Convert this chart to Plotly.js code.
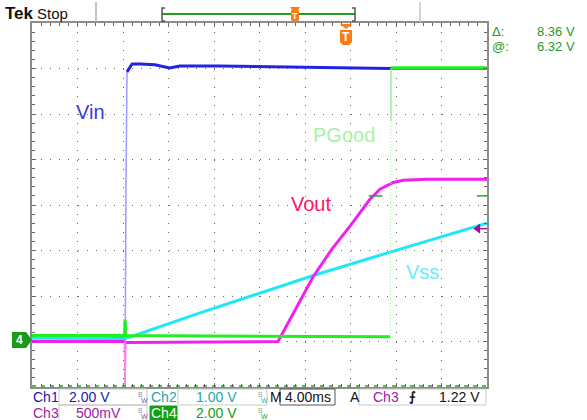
<!DOCTYPE html>
<html><head><meta charset="utf-8">
<script src="https://cdn.plot.ly/plotly-3.0.1.min.js"></script>
<style>html,body{margin:0;padding:0;background:#fff;overflow:hidden}</style>
</head><body><div id="chart" style="width:587px;height:420px"></div>
<script>
// ---------- data: time in ms from left edge of screen, values in volts ----------
// Ch1 Vin (2 V/div)
const vinT = [0, 8.13, 8.18, 8.26, 8.35, 8.8, 9.5, 10.8, 12.1, 13.0, 16.5, 23.6, 31.5, 40];
const vinV = [0.09, 0.09, -1.98, 6.6, 11.77, 12.12, 12.12, 12.08, 11.94, 12.03, 12.03, 11.97, 11.92, 11.92];
// Ch2 Vss (1 V/div)
const vssT = [0, 8.18, 14.77, 20.04, 24.73, 31.56, 35.58, 39.1, 40];
const vssV = [0.04, 0.02, 0.59, 1.03, 1.41, 1.93, 2.23, 2.5, 2.56];
// Ch3 Vout (500 mV/div)
const voutT = [0, 8.13, 8.18, 8.26, 21.63, 24.73, 26.35, 27.96, 29.71, 30.59, 31.76, 32.64, 34.7, 40];
const voutV = [-0.02, -0.02, -0.52, -0.03, -0.02, 0.694, 0.992, 1.248, 1.543, 1.653, 1.727, 1.752, 1.763, 1.763];
// Ch4 PGood (2 V/div)
const pgT = [0, 8.13, 8.18, 8.26, 31.5, 31.56, 40];
const pgV = [0.18, 0.18, 0.88, 0.18, 0.13, 11.94, 11.94];
const pgEdgeBrightFrom = 9.6;            // V, where the bright part of the PGood edge starts
// channel settings and readouts
const chNames = ['Ch1', 'Ch2', 'Ch3', 'Ch4'];
const chScale = [2, 1, 0.5, 2];          // V/div
const groundDiv = -2.96;                 // ground marker position (div from centre)
const trigLevel = 1.22;                  // Ch3 trigger level, V
const cursorAt = 6.32, cursorDelta = 8.36; // Ch4 cursor readout, V
const timeDiv = 4;                       // ms/div

const toDiv = (arr, s) => arr.map(v => v === null ? null : v / s + groundDiv);

// ---------- pixel -> paper helpers for decorations ----------
const L = 32, R = 487, T = 23, B = 387;
const P = x => (x - L) / (R - L);
const Q = y => (B - y) / (B - T);
const path = pts => pts.map((p, i) => (i ? 'L' : 'M') + P(p[0]).toFixed(4) + ',' + Q(p[1]).toFixed(4)).join(' ') + ' Z';

const cVin = '#2323e8', cVss = '#1ee8f8', cVout = '#f020ee', cPg = '#22ee22';

function tr(x, y, color, width, extra) {
  return Object.assign({x: x, y: y, type: 'scatter', mode: 'lines', hoverinfo: 'skip',
    line: {color: color, width: width}, cliponaxis: true}, extra || {});
}

const traces = [];
// Vin: edge thin, rest thick
traces.push(tr(vinT.slice(1, 5), toDiv(vinV.slice(1, 5), chScale[0]), '#9a9aff', 1.5));
traces.push(tr(vinT.slice(0, 2), toDiv(vinV.slice(0, 2), chScale[0]), cVin, 3));
traces.push(tr(vinT.slice(4), toDiv(vinV.slice(4), chScale[0]), cVin, 3));
// Vss
traces.push(tr(vssT, toDiv(vssV, chScale[1]), cVss, 3));
// Vout
traces.push(tr(voutT.slice(1, 4), toDiv(voutV.slice(1, 4), chScale[2]), '#ff80f0', 1.5));
traces.push(tr(voutT.slice(0, 2), toDiv(voutV.slice(0, 2), chScale[2]), cVout, 3));
traces.push(tr(voutT.slice(3), toDiv(voutV.slice(3), chScale[2]), cVout, 3));
// PGood
traces.push(tr(pgT.slice(0, 5), toDiv(pgV.slice(0, 5), chScale[3]), cPg, 3));
traces.push(tr(pgT.slice(4, 6), toDiv(pgV.slice(4, 6), chScale[3]), '#9cf09c', 1.2, {line: {color: '#9cf09c', width: 1.2, dash: '1px,2px'}}));
traces.push(tr([pgT[5], pgT[5]], toDiv([pgEdgeBrightFrom, pgV[5]], chScale[3]), '#8cf08c', 1.3));
traces.push(tr(pgT.slice(5), toDiv(pgV.slice(5), chScale[3]), cPg, 3.5));
// trigger level marker (Ch3)
const tl = trigLevel / chScale[2] + groundDiv;
traces.push(tr([39.1, 40], [tl, tl], '#a010a0', 1.5, {cliponaxis: false}));
traces.push({x: [39.2], y: [tl], type: 'scatter', mode: 'markers', hoverinfo: 'skip', cliponaxis: false,
  marker: {symbol: 'triangle-left', size: 9, color: '#a010a0'}});
// lower cursor (Ch4)
const curLo = (cursorAt - cursorDelta) / chScale[3] + groundDiv;
const curHi = cursorAt / chScale[3] + groundDiv;
traces.push(tr([0, 40], [curLo, curLo], '#22aa22', 1.5, {line: {color: '#22aa22', width: 1.5, dash: '4px,5px'}, cliponaxis: false}));

const gridCol = '#6a6a6a';
const axisCommon = {showticklabels: false, zeroline: false, showgrid: true, gridcolor: gridCol, gridwidth: 1,
  griddash: '1px,8.1px', showline: true, linecolor: '#8c8c8c', linewidth: 2, mirror: 'allticks',
  ticks: 'inside', ticklen: 4, tickcolor: '#666', tickwidth: 1, fixedrange: true};

const shapes = [];
const annotations = [];
function txt(x, y, text, color, size, opts) {
  annotations.push(Object.assign({xref: 'paper', yref: 'paper', x: P(x), y: Q(y), text: text, showarrow: false,
    xanchor: 'left', yanchor: 'middle', font: {family: 'Liberation Sans, Arial, sans-serif', size: size, color: color}}, opts || {}));
}
function line(x0, y0, x1, y1, color, w, dash) {
  shapes.push({type: 'line', xref: 'paper', yref: 'paper', x0: P(x0), y0: Q(y0), x1: P(x1), y1: Q(y1),
    line: {color: color, width: w, dash: dash || 'solid'}});
}
function rect(x0, y0, x1, y1, color, fill) {
  shapes.push({type: 'rect', xref: 'paper', yref: 'paper', x0: P(x0), y0: Q(y0), x1: P(x1), y1: Q(y1),
    line: {color: color, width: 1}, fillcolor: fill || 'rgba(0,0,0,0)'});
}
function poly(pts, fill) {
  shapes.push({type: 'path', xref: 'paper', yref: 'paper', path: path(pts), fillcolor: fill, line: {width: 0}});
}
function bw(x, y, c1, c2) {
  txt(x - 2, y - 3, 'B', c1, 7, {xanchor: 'center'});
  txt(x + 2, y + 3, 'W', c2, 7, {xanchor: 'center'});
}

// upper cursor stubs
shapes.push({type: 'line', xref: 'x', yref: 'y', x0: 29.6, x1: 30.8, y0: curHi, y1: curHi, line: {color: '#22aa22', width: 1.5}});
shapes.push({type: 'line', xref: 'x', yref: 'y', x0: 39.1, x1: 40, y0: curHi, y1: curHi, line: {color: '#22aa22', width: 1.5}});

// ---- header ----
txt(3, 13, '<b>Tek</b>', '#111', 17);
txt(35, 13, 'Stop', '#111', 15);
line(96, 2, 96, 22, '#b0b0b0', 1.5);
line(420, 2, 420, 22, '#c8c8c8', 1.5);
line(162, 14, 355, 14, '#22a022', 2);
shapes.push({type: 'path', xref: 'paper', yref: 'paper', line: {color: '#555', width: 1.5},
  path: 'M' + P(165) + ',' + Q(8) + ' L' + P(162) + ',' + Q(8) + ' L' + P(162) + ',' + Q(21) + ' L' + P(165) + ',' + Q(21)});
shapes.push({type: 'path', xref: 'paper', yref: 'paper', line: {color: '#555', width: 1.5},
  path: 'M' + P(352) + ',' + Q(8) + ' L' + P(355) + ',' + Q(8) + ' L' + P(355) + ',' + Q(21) + ' L' + P(352) + ',' + Q(21)});
// orange marker in record bar
poly([[290, 7], [300, 7], [298, 10], [299, 11], [299, 20], [297, 22], [293, 22], [291, 20], [291, 11], [292, 10]], '#ff7a10');
txt(295, 16, '<b>T</b>', '#fff', 9, {xanchor: 'center'});
// orange trigger marker on screen
poly([[340, 24], [352, 24], [346, 29]], '#ff7a10');
poly([[340, 30], [352, 30], [352, 42], [349, 45], [343, 45], [340, 42]], '#ff7a10');
txt(346, 37.5, '<b>T</b>', '#fff', 12, {xanchor: 'center'});

// right readouts
txt(490, 31, 'Δ:', '#1f9a1f', 13);
txt(577, 31, cursorDelta.toFixed(2) + ' V', '#1f9a1f', 13, {xanchor: 'right'});
txt(490, 46, '@:', '#1f9a1f', 13);
txt(577, 46, cursorAt.toFixed(2) + ' V', '#1f9a1f', 13, {xanchor: 'right'});

// Ch4 ground marker
poly([[12, 332], [26, 332], [32, 340], [26, 348], [12, 348]], '#1a9a1a');
txt(19, 340, '<b>4</b>', '#fff', 12, {xanchor: 'center'});

// trace labels
txt(90, 112, 'Vin', '#3a3ad6', 20, {xanchor: 'center'});
txt(344, 135, 'PGood', '#a6f2a6', 20, {xanchor: 'center'});
txt(311, 204, 'Vout', '#ff1464', 20, {xanchor: 'center'});
txt(422, 272, 'Vss', '#66eefa', 20, {xanchor: 'center'});

// ---- bottom readouts ----
const r1 = 397, r2 = 413;
const cCh1 = '#1a1aa8', cCh2 = '#1aa8a8', cCh3 = '#a020a8', cCh4 = '#12a012';
rect(59, 389, 147, 405, '#c8c8c8');
rect(178, 389, 267, 405, '#c8c8c8');
rect(280, 389, 335, 405, '#555555');
rect(359, 389, 486, 405, '#c8c8c8');
rect(59, 405, 147, 421, '#c8c8c8');
rect(150, 406, 177, 421, cCh4, cCh4);
txt(31, r1, chNames[0], cCh1, 14);
txt(89, r1, chScale[0].toFixed(2) + ' V', cCh1, 14, {xanchor: 'center'});
bw(142, r1, '#9090b0', '#6060c0');
txt(149, r1, chNames[1], cCh2, 14);
txt(216, r1, chScale[1].toFixed(2) + ' V', cCh2, 14, {xanchor: 'center'});
bw(262, r1, '#90b0b0', '#30b0b0');
txt(268, r1, 'M', '#111', 14);
txt(307.5, r1, timeDiv.toFixed(2) + 'ms', '#111', 14, {xanchor: 'center'});
txt(348, r1, 'A', '#111', 14);
txt(371, r1, chNames[2], cCh3, 14);
txt(412, r1, '<b>⨍</b>', '#111', 13, {xanchor: 'center'});
txt(482, r1, trigLevel.toFixed(2) + ' V', '#111', 14, {xanchor: 'right'});
txt(31, r2, chNames[2], cCh3, 14);
txt(98, r2, (chScale[2] * 1000) + 'mV', cCh3, 14, {xanchor: 'center'});
bw(142, r2, '#b090b0', '#a040b0');
txt(163.5, r2, chNames[3], '#fff', 14, {xanchor: 'center'});
txt(216, r2, chScale[3].toFixed(2) + ' V', cCh4, 14, {xanchor: 'center'});
bw(262, r2, '#90b090', '#30a030');

const layout = {
  width: 587, height: 420, margin: {l: L, r: 587 - R, t: T, b: 420 - B, pad: 0},
  paper_bgcolor: '#fff', plot_bgcolor: '#fff', showlegend: false,
  xaxis: Object.assign({}, axisCommon, {range: [0, 10 * timeDiv], tick0: 0, dtick: timeDiv,
    minor: {dtick: timeDiv / 5, ticks: 'inside', ticklen: 3, tickcolor: '#666', showgrid: false}}),
  yaxis: Object.assign({}, axisCommon, {range: [-4, 4], tick0: -4, dtick: 1,
    minor: {dtick: 0.2, ticks: 'inside', ticklen: 3, tickcolor: '#666', showgrid: false}}),
  shapes: shapes, annotations: annotations
};
Plotly.newPlot('chart', traces, layout, {staticPlot: true, displayModeBar: false});
</script></body></html>
